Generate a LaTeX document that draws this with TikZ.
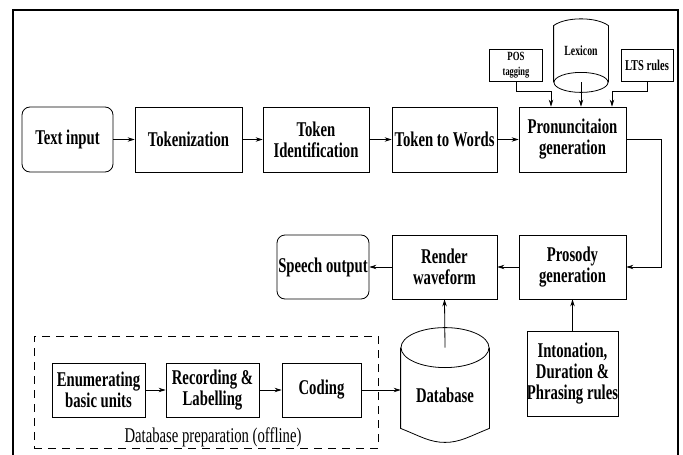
\documentclass[tikz,border=0pt]{standalone}
\usepackage{fontspec}
\setmainfont{Liberation Serif}[FakeStretch=0.7]
\usetikzlibrary{arrows.meta}

\begin{document}
\begin{tikzpicture}[x=1pt,y=-1pt,>={Stealth[length=7pt,width=4.5pt]},
		line width=0.8pt,
		block/.style={draw,inner sep=0pt,align=center,font=\fontsize{21}{21}\selectfont\bfseries},
		roundblock/.style={block,rounded corners=8pt},
		smallblock/.style={draw,inner sep=0pt,align=center,font=\fontsize{15}{15}\selectfont\bfseries},
		rowone/.style={minimum height=65pt},
		rowtwo/.style={minimum height=64pt},
		rowthree/.style={minimum height=54pt}]

	\useasboundingbox (0,0) rectangle (683,455);

	% Frame
	\draw[line width=2pt] (13,455) -- (13,10) -- (678,10) -- (678,455);

	% Text processing row
	\node[roundblock,rowone,minimum width=91pt] (txt) at (67.5,139.5) {Text input};
	\node[block,rowone,minimum width=107pt] (tok) at (188.5,139.5) {Tokenization};
	\node[block,rowone,minimum width=106pt] (tid) at (316,139.5) {Token\\Identification};
	\node[block,rowone,minimum width=105pt] (t2w) at (444.5,139.5) {Token to Words};
	\node[block,rowone,minimum width=107pt] (pron) at (572.5,139.5) {Pronuncitaion\\generation};

	% Pronunciation resources
	\node[smallblock,minimum width=53pt,minimum height=32pt] (pos) at (516,65)
		{{\fontsize{12.5}{10}\selectfont POS}\\{\fontsize{12}{10}\selectfont tagging}};
	\node[inner sep=0pt,minimum width=54pt,minimum height=56pt,font=\fontsize{14}{14}\selectfont\bfseries] (lex) at (581,54) {\raisebox{6pt}{Lexicon}};
	\node[smallblock,minimum width=52pt,minimum height=32pt] (lts) at (647,65) {LTS rules};

	% Lexicon cylinder
	\draw (lex.south west) -- (lex.north west) .. controls +(12,-9) and +(-12,-9) .. (lex.north east) -- (lex.south east);
	\draw (lex.south) ellipse (27pt and 10pt);

	% Synthesis row
	\node[roundblock,rowtwo,minimum width=92pt] (speech) at (323,267) {Speech output};
	\node[block,rowtwo,minimum width=105pt] (render) at (444.5,267) {Render\\waveform};
	\node[block,rowtwo,minimum width=107pt] (pros) at (572.5,267) {Prosody\\generation};
	\node[block,minimum width=89pt,minimum height=85pt] (inton) at (572.5,373.5) {Intonation,\\Duration \&\\Phrasing rules};

	% Database cylinder
	\node[inner sep=0pt,minimum width=88pt,minimum height=94pt,font=\fontsize{21}{21}\selectfont\bfseries] (db) at (445,395) {Database};
	\draw (db.north) ellipse (44pt and 20pt);
	\draw (db.north west) -- ([yshift=14pt]db.south west) .. controls +(20,8) and +(-15,0) .. (db.south)
		.. controls +(15,0) and +(-20,8) .. ([yshift=14pt]db.south east) -- (db.north east);

	% Database preparation
	\node[draw,dash pattern=on 8pt off 6pt,minimum width=344pt,minimum height=112pt] (prep) at (206,392) {};
	\node[block,rowthree,minimum width=93pt] (enum) at (98.5,390) {Enumerating\\basic units};
	\node[block,rowthree,minimum width=93pt] (rec) at (212.5,390) {Recording \&\\Labelling};
	\node[block,rowthree,minimum width=79pt] (cod) at (321.5,390) {Coding};
	\node[font=\fontsize{21}{21}\selectfont] (preplbl) at (213,437) {Database preparation (offline)};

	% Edges
	\draw[->] (txt) -- (tok);
	\draw[->] (tok) -- (tid);
	\draw[->] (tid) -- (t2w);
	\draw[->] (t2w) -- (pron);
	\draw[->] (pos.south) -- ++(0,10) -| ([xshift=-21.5pt]pron.north);
	\draw[->] (lex.south) -- (lex.south |- pron.north);
	\draw[->] (lts.south) -- ++(0,10) -| ([xshift=39.5pt]pron.north);
	\draw[->] (pron.east) -- ++(35,0) |- (pros.east);
	\draw[->] (pros) -- (render);
	\draw[->] (render) -- (speech);
	\draw[->] (inton) -- (pros);
	\draw[->] (db.north) -- (render.south);
	\draw[->] (enum) -- (rec);
	\draw[->] (rec) -- (cod);
	\draw[->] (cod.east) -- (cod.east -| db.west);

\end{tikzpicture}
\end{document}
